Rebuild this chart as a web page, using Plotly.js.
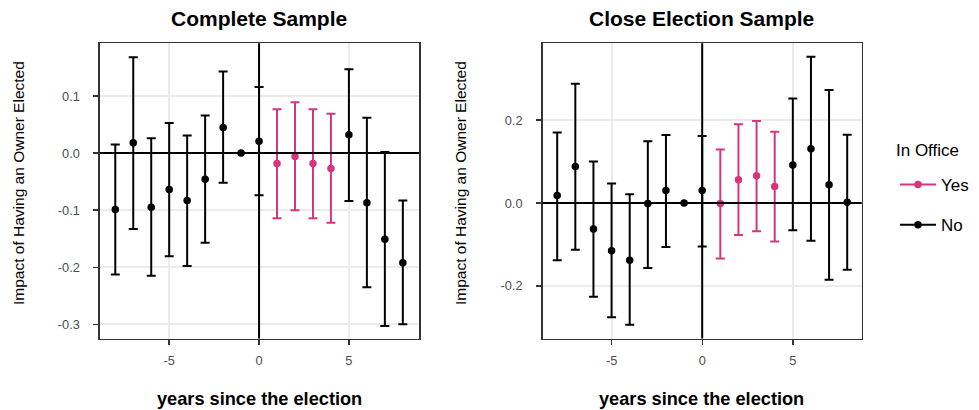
<!DOCTYPE html>
<html>
<head>
<meta charset="utf-8">
<script src="https://cdn.plot.ly/plotly-3.0.1.min.js"></script>
<style>html,body{margin:0;padding:0;background:#fff;}#chart{width:979px;height:410px;}</style>
</head>
<body>
<div id="chart"></div>
<script>
// ---- data ----
const years = [-8, -7, -6, -5, -4, -3, -2, -1, 0, 1, 2, 3, 4, 5, 6, 7, 8];
const inOffice = ["No","No","No","No","No","No","No","No","No","Yes","Yes","Yes","Yes","No","No","No","No"];

// Complete Sample
const completeEst   = [-0.099, 0.018, -0.095, -0.064, -0.083, -0.046, 0.045, 0.000, 0.021, -0.018, -0.006, -0.018, -0.027, 0.032, -0.087, -0.151, -0.192];
const completeLower = [-0.213, -0.133, -0.215, -0.181, -0.198, -0.157, -0.052, null, -0.074, -0.114, -0.100, -0.114, -0.122, -0.084, -0.235, -0.303, -0.300];
const completeUpper = [0.015, 0.168, 0.026, 0.053, 0.031, 0.066, 0.143, null, 0.116, 0.077, 0.089, 0.077, 0.069, 0.147, 0.062, 0.002, -0.083];

// Close Election Sample
const closeEst   = [0.018, 0.088, -0.063, -0.115, -0.138, -0.001, 0.030, 0.000, 0.030, -0.001, 0.056, 0.066, 0.040, 0.092, 0.131, 0.044, 0.002];
const closeLower = [-0.138, -0.113, -0.226, -0.276, -0.294, -0.157, -0.106, null, -0.105, -0.134, -0.077, -0.068, -0.093, -0.066, -0.091, -0.185, -0.161];
const closeUpper = [0.170, 0.288, 0.100, 0.047, 0.021, 0.149, 0.164, null, 0.162, 0.129, 0.190, 0.198, 0.172, 0.252, 0.353, 0.273, 0.165];

const panelTitles = ["Complete Sample", "Close Election Sample"];
const xTitle = "years since the election";
const yTitle = "Impact of Having an Owner Elected";
const legendTitle = "In Office";
const groups = ["Yes", "No"];
const xTicks = [-5, 0, 5];
const yTicksLeft = [-0.3, -0.2, -0.1, 0.0, 0.1];
const yTicksRight = [-0.2, 0.0, 0.2];

// ---- styles ----
const colors = {Yes: "#d4367c", No: "#000000"};
const W = 979, H = 410;
const px = v => v / W, py = v => 1 - v / H;

function panelTraces(est, lo, hi, xa, ya) {
  return groups.map(g => {
    const idx = years.map((_, i) => i).filter(i => inOffice[i] === g);
    return {
      type: "scatter", mode: "markers", xaxis: xa, yaxis: ya, showlegend: false,
      x: idx.map(i => years[i]),
      y: idx.map(i => est[i]),
      marker: {color: colors[g], size: 7.5},
      error_y: {
        type: "data", symmetric: false,
        array: idx.map(i => hi[i] === null ? NaN : hi[i] - est[i]),
        arrayminus: idx.map(i => lo[i] === null ? NaN : est[i] - lo[i]),
        color: colors[g], thickness: 2, width: 4.5
      },
      hoverinfo: "x+y"
    };
  });
}

const traces = [
  ...panelTraces(completeEst, completeLower, completeUpper, "x", "y"),
  ...panelTraces(closeEst, closeLower, closeUpper, "x2", "y2"),
  ...groups.map(g => ({
    type: "scatter", mode: "lines+markers", x: [null], y: [null], xaxis: "x", yaxis: "y",
    name: g, legendgroup: g, showlegend: true,
    line: {color: colors[g], width: 2}, marker: {color: colors[g], size: 7.5}
  }))
];

const axisCommon = {
  showline: true, mirror: true, linecolor: "#333333", linewidth: 1.6,
  showgrid: true, gridcolor: "#ebebeb", gridwidth: 2,
  zeroline: false, ticks: "outside", ticklen: 5, tickwidth: 1.4, tickcolor: "#333333",
  tickfont: {family: "Liberation Sans, Arial, sans-serif", size: 12.8, color: "#4d4d4d"},
  fixedrange: true
};

const xdomL = [px(100), px(419)], xdomR = [px(542.7), px(861.7)];
const ydom = [py(338.5), py(43.3)];

const layout = {
  width: W, height: H,
  margin: {l: 0, r: 0, t: 0, b: 0},
  paper_bgcolor: "#ffffff", plot_bgcolor: "#ffffff",
  font: {family: "Liberation Sans, Arial, sans-serif", color: "#000000"},
  xaxis: {...axisCommon, domain: xdomL, range: [-8.85, 8.9], tickvals: xTicks, ticktext: xTicks.map(String), anchor: "y", ticklabelstandoff: 5},
  yaxis: {...axisCommon, domain: ydom, range: [-0.325, 0.1925], tickvals: yTicksLeft, ticktext: yTicksLeft.map(v => v.toFixed(1)), anchor: "x", ticklabelstandoff: 11},
  xaxis2: {...axisCommon, domain: xdomR, range: [-8.8, 8.8], tickvals: xTicks, ticktext: xTicks.map(String), anchor: "y2", ticklabelstandoff: 5},
  yaxis2: {...axisCommon, domain: ydom, range: [-0.327, 0.3855], tickvals: yTicksRight, ticktext: yTicksRight.map(v => v.toFixed(1)), anchor: "x2", ticklabelstandoff: 11},
  shapes: [
    {type: "line", xref: "x", yref: "y domain", x0: 0, x1: 0, y0: 0, y1: 1, line: {color: "#000", width: 2}, layer: "above"},
    {type: "line", xref: "x domain", yref: "y", x0: 0, x1: 1, y0: 0, y1: 0, line: {color: "#000", width: 2}, layer: "above"},
    {type: "line", xref: "x2", yref: "y2 domain", x0: 0, x1: 0, y0: 0, y1: 1, line: {color: "#000", width: 2}, layer: "above"},
    {type: "line", xref: "x2 domain", yref: "y2", x0: 0, x1: 1, y0: 0, y1: 0, line: {color: "#000", width: 2}, layer: "above"}
  ],
  annotations: [
    {text: "<b>" + panelTitles[0] + "</b>", xref: "paper", yref: "paper", x: px(259), y: py(18), xanchor: "center", yanchor: "middle", showarrow: false, font: {size: 21}},
    {text: "<b>" + panelTitles[1] + "</b>", xref: "paper", yref: "paper", x: px(701.7), y: py(18), xanchor: "center", yanchor: "middle", showarrow: false, font: {size: 21}},
    {text: "<b>" + xTitle + "</b>", xref: "paper", yref: "paper", x: px(259), y: py(399), xanchor: "center", yanchor: "middle", showarrow: false, font: {size: 18.2}},
    {text: "<b>" + xTitle + "</b>", xref: "paper", yref: "paper", x: px(701.5), y: py(399), xanchor: "center", yanchor: "middle", showarrow: false, font: {size: 18.2}},
    {text: yTitle, xref: "paper", yref: "paper", x: px(19), y: py(183), xanchor: "center", yanchor: "middle", textangle: -90, showarrow: false, font: {size: 15.5}},
    {text: yTitle, xref: "paper", yref: "paper", x: px(461), y: py(183), xanchor: "center", yanchor: "middle", textangle: -90, showarrow: false, font: {size: 15.5}},
    {text: legendTitle, xref: "paper", yref: "paper", x: px(894), y: py(150), xanchor: "left", yanchor: "middle", showarrow: false, font: {size: 17}}
  ],
  showlegend: true,
  legend: {
    x: px(895), y: py(167), xanchor: "left", yanchor: "top",
    font: {size: 17}, traceorder: "grouped", tracegroupgap: 15, itemwidth: 36,
    bgcolor: "rgba(0,0,0,0)", itemclick: false, itemdoubleclick: false
  }
};

Plotly.newPlot("chart", traces, layout, {displayModeBar: false, staticPlot: true});
</script>
</body>
</html>
